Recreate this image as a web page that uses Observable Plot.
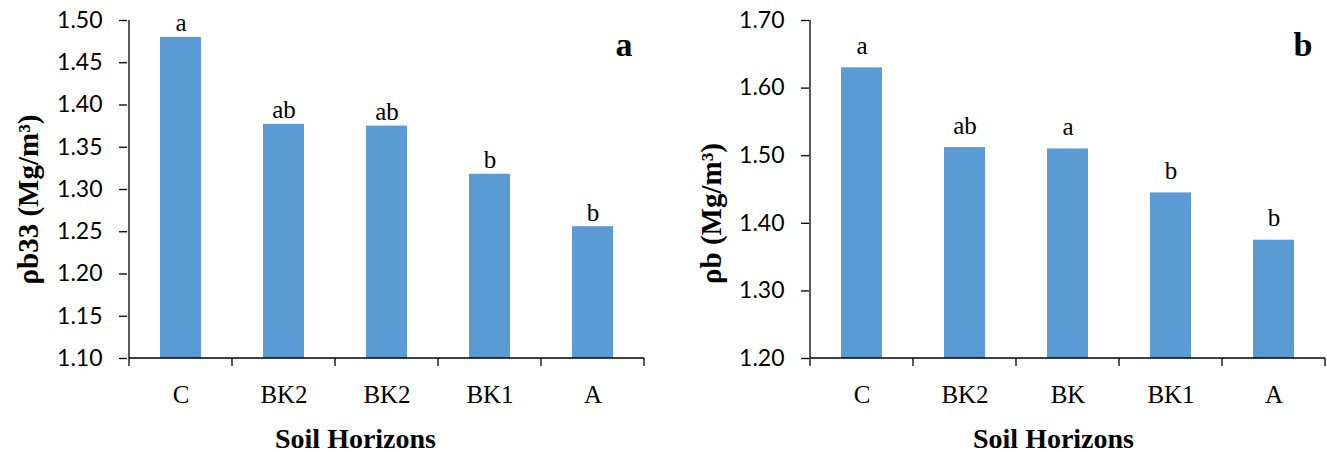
<!DOCTYPE html>
<html>
<head>
<meta charset="utf-8">
<script src="https://cdn.jsdelivr.net/npm/d3@7"></script>
<script src="https://cdn.jsdelivr.net/npm/@observablehq/plot@0.6"></script>
<style>
  html, body { margin: 0; padding: 0; background: #fff; }
  #wrap { display: flex; width: 1327px; height: 452px; }
  svg { display: block; }
</style>
</head>
<body>
<div id="wrap"></div>
<script>
// ---- data (panel a) ----
const horizonsA = ["C", "BK2", "BK2", "BK1", "A"];
const rhoB33 = [1.480, 1.377, 1.375, 1.318, 1.256];
const lettersA = ["a", "ab", "ab", "b", "b"];
const ticksA = [1.10, 1.15, 1.20, 1.25, 1.30, 1.35, 1.40, 1.45, 1.50];
const titleA = "ρb33 (Mg/m³)";
const panelA = "a";

// ---- data (panel b) ----
const horizonsB = ["C", "BK2", "BK", "BK1", "A"];
const rhoB = [1.630, 1.512, 1.510, 1.445, 1.375];
const lettersB = ["a", "ab", "a", "b", "b"];
const ticksB = [1.20, 1.30, 1.40, 1.50, 1.60, 1.70];
const titleB = "ρb (Mg/m³)";
const panelB = "b";

const xTitle = "Soil Horizons";

const SERIF = "'Liberation Serif', 'Times New Roman', serif";
const SANS = "Lato, 'Open Sans', sans-serif";
const BAR = "#5b9bd5";

// axis lines and boundary ticks drawn with the scales
function axisFrame() {
  return (index, scales, values, dimensions) => {
    const x = scales.x, y = scales.y;
    const bw = typeof x.bandwidth === "function" ? x.bandwidth() : x.bandwidth;
    const dom = x.domain();
    const yd = y.domain();
    const y0 = y(yd[0]), y1 = y(yd[1]);
    const g = d3.create("svg:g").attr("stroke", "#000").attr("stroke-width", 1.3).attr("fill", "none");
    const xs = dom.map(d => x(d));
    xs.push(x(dom[dom.length - 1]) + bw);
    g.append("line").attr("x1", xs[0]).attr("x2", xs[0]).attr("y1", y1).attr("y2", y0);
    g.append("line").attr("x1", xs[0]).attr("x2", xs[xs.length - 1]).attr("y1", y0).attr("y2", y0);
    for (const px of xs) g.append("line").attr("x1", px).attr("x2", px).attr("y1", y0).attr("y2", y0 + 8);
    return g.node();
  };
}

function makeChart({cats, vals, letters, ticks, title, panel, width, marginLeft, marginRight,
                    letterDy, titleDx, titleDy, xTitleDx}) {
  const data = cats.map((c, i) => ({i, cat: c, v: vals[i], letter: letters[i]}));
  const yMin = ticks[0], yMax = ticks[ticks.length - 1];
  return Plot.plot({
    width, height: 452,
    marginLeft, marginRight, marginTop: 20, marginBottom: 94,
    style: {background: "#fff", overflow: "visible"},
    x: {type: "band", domain: data.map(d => d.i), padding: 0, axis: null},
    y: {domain: [yMin, yMax], axis: null},
    marks: [
      Plot.barY(data, {x: "i", y1: () => yMin, y2: "v", fill: BAR, insetLeft: 31, insetRight: 31}),
      Plot.text(data, {x: "i", y: "v", text: "letter", dy: letterDy, lineAnchor: "bottom",
                       fontSize: 25, fontFamily: SERIF, fill: "#000"}),
      Plot.axisY({ticks, tickFormat: d3.format(".2f"), tickSize: 8, tickPadding: 17,
                  fontSize: 23, fontFamily: SANS, stroke: "#000", strokeWidth: 1.3, label: null, color: "#000"}),
      Plot.axisX({tickSize: 0, tickPadding: 27, tickFormat: i => cats[i], fontSize: 25,
                  fontFamily: SERIF, label: null, color: "#000"}),
      axisFrame(),
      Plot.text([title], {frameAnchor: "left", textAnchor: "middle", lineAnchor: "middle", rotate: -90,
                          dx: titleDx, dy: titleDy,
                          fontSize: 29, fontWeight: "bold", fontFamily: SERIF, fill: "#000"}),
      Plot.text([xTitle], {frameAnchor: "bottom", textAnchor: "middle", dy: 81, dx: xTitleDx, lineAnchor: "middle",
                           fontSize: 28, fontWeight: "bold", fontFamily: SERIF, fill: "#000"}),
      Plot.text([panel], {frameAnchor: "top-right", textAnchor: "end", lineAnchor: "bottom", dx: -13, dy: 35,
                          fontSize: 34, fontWeight: "bold", fontFamily: SERIF, fill: "#000"})
    ]
  });
}

const wrap = document.getElementById("wrap");
wrap.append(makeChart({cats: horizonsA, vals: rhoB33, letters: lettersA, ticks: ticksA, title: titleA, panel: panelA,
  width: 663, marginLeft: 127, marginRight: 18, letterDy: -6, titleDx: -99, titleDy: 10, xTitleDx: -31}));
wrap.append(makeChart({cats: horizonsB, vals: rhoB, letters: lettersB, ticks: ticksB, title: titleB, panel: panelB,
  width: 664, marginLeft: 146, marginRight: 2, letterDy: -14, titleDx: -98, titleDy: 24, xTitleDx: -14}));
</script>
</body>
</html>
